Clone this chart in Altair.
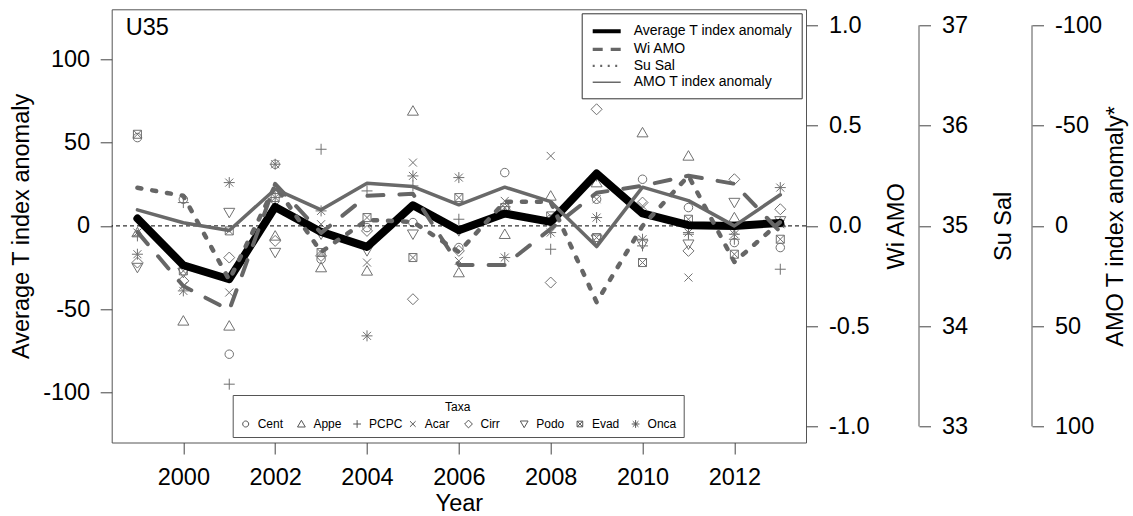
import altair as alt
import pandas as pd

FONT = "Liberation Sans"

# ---------------- data ----------------
years = list(range(1999, 2014))
taxa = ["Cent", "Appe", "PCPC", "Acar", "Cirr", "Podo", "Evad", "Onca"]

cent = [53, 16, -77, 37, -20, -1, 2, -13, 32, 4, 16, 28, 11, -10, -13]
appe = [-4, -57, -60, -6, -25, -27, 69, -28, -5, 18, 26, 56, 42, 5, 2]
pcpc = [-6, 14, -95, 17, 46, 21, 24, 4, 8, -14, 30, -12, -5, -8, -26]
acar = [-4, -36, -40, 12, 1, -22, 38, -21, 15, 42, 16, 12, -31, -3, 1]
cirr = [-22, -33, -19, -9, -18, -3, -44, -15, 10, -34, 70, 14, -15, 28, 10]
podo = [-25, -28, 8, -16, -5, -15, -5, -3, 9, 2, -8, -11, -11, 14, 3]
evad = [55, -27, -3, 17, -16, 5, -19, 17, 11, 6, -7, -22, 4, -17, -8]
onca = [-17, -39, 26, 37, 9, -66, 30, 29, -19, -4, 5, -8, -4, -5, 23]

avg_t = [4.4, -23.6, -32, 11.4, -3.6, -12.6, 12.4, -2.6, 7.4, 2.4, 31.4, 7.5, 0.4, 0, 1.8]
wi_amo = [-0.03, -0.30, -0.42, 0.21, -0.035, 0.15, 0.16, -0.195, -0.195, -0.015, 0.165, 0.20, 0.25, 0.21, -0.03]
su_sal = [35.38, 35.30, 34.46, 35.40, 34.74, 35.06, 35.04, 34.74, 35.24, 35.24, 34.24, 35.00, 35.50, 34.64, 35.04]
amo_t = [-8, -1.6, 2.3, -18.3, -8, -21.3, -19.6, -10.5, -19.3, -12.1, 10.3, -19.3, -12.6, 0, -15.5]

series_names = ["Average T index anomaly", "Wi AMO", "Su Sal", "AMO T index anomaly"]
series_colors = ["#000000", "#666666", "#666666", "#696969"]
legend_dashes = [[1, 0], [10, 8], [2, 5.5], [1, 0]]
legend_widths = [4, 1.5, 1.5, 1.8]

x_ticks = [2000, 2002, 2004, 2006, 2008, 2010, 2012]
left_ticks = [-100, -50, 0, 50, 100]
wi_ticks = [-1.0, -0.5, 0.0, 0.5, 1.0]
sal_ticks = [33, 34, 35, 36, 37]
amo_ticks = [-100, -50, 0, 50, 100]

# symbol paths (unit square) for the taxa
shape_paths = [
    "M0.85,0A0.85,0.85 0 1 1 -0.85,0A0.85,0.85 0 1 1 0.85,0Z",
    "M0,-1.05L1.1,0.85L-1.1,0.85Z",
    "M-1.1,0L1.1,0M0,-1.1L0,1.1",
    "M-0.8,-0.8L0.8,0.8M-0.8,0.8L0.8,-0.8",
    "M0,-1.1L1.1,0L0,1.1L-1.1,0Z",
    "M0,1.05L1.1,-0.85L-1.1,-0.85Z",
    "M-0.8,-0.8L0.8,-0.8L0.8,0.8L-0.8,0.8ZM-0.8,-0.8L0.8,0.8M-0.8,0.8L0.8,-0.8",
    "M-1.1,0L1.1,0M0,-1.1L0,1.1M-0.8,-0.8L0.8,0.8M-0.8,0.8L0.8,-0.8",
]

# ---------------- tables ----------------
taxa_vals = [cent, appe, pcpc, acar, cirr, podo, evad, onca]
rows = []
for name, vals in zip(taxa, taxa_vals):
    for yr, v in zip(years, vals):
        rows.append({"year": yr, "taxa": name, "value": v})
taxa_df = pd.DataFrame(rows)

avg_df = pd.DataFrame({"year": years, "v": avg_t})
wi_df = pd.DataFrame({"year": years, "v": wi_amo})
sal_df = pd.DataFrame({"year": years, "s": su_sal})
amo_df = pd.DataFrame({"year": years, "v": amo_t})
legend_df = pd.DataFrame({"year": pd.Series([], dtype=float), "v": pd.Series([], dtype=float),
                          "series": pd.Series([], dtype=str)})

# ---------------- geometry ----------------
W = 694.3
H = 433.2
PAD_L, PAD_T = 111.7, 9.3
SAL_OFF = 113
AMO_OFF = 226

labexp = "replace(format(datum.value, '{f}'), '\u2212', '-')"

x_enc = alt.X(
    "year:Q",
    scale=alt.Scale(domain=[1998.44, 2013.56], nice=False, zero=False),
    axis=alt.Axis(values=x_ticks, format="d", title="Year", domain=False, tickSize=11.5,
                  labelPadding=30, labelBaseline="alphabetic", labelFlush=False,
                  labelOverlap=False, titleY=67.5, titleBaseline="alphabetic"),
)

left_scale = alt.Scale(domain=[-130, 130], nice=False, zero=False)
left_axis = alt.Axis(values=left_ticks, labelExpr=labexp.format(f="d"), title="Average T index anomaly",
                     orient="left", domain=False, tickSize=11.5, labelPadding=10.5,
                     titleAngle=270, titleX=-83, titleY=H / 2, titleAlign="center",
                     titleBaseline="alphabetic")


def y_left(field):
    return alt.Y(field, type="quantitative", scale=left_scale, axis=left_axis)


line_legend = alt.Legend(
    title=None, orient="none", legendX=470, legendY=4, direction="vertical",
    symbolType="M-1,0L3,0", symbolSize=196, labelOffset=25, labelFontSize=14,
    labelFont=FONT, labelLimit=400, padding=9, rowPadding=1,
    strokeColor="#333333", fillColor="white",
)

# ---------------- layer A (left scale) ----------------
points = alt.Chart(taxa_df).mark_point(filled=False, size=100, strokeWidth=1, color="#707070", opacity=1).encode(
    x=x_enc,
    y=y_left("value"),
    shape=alt.Shape(
        "taxa:N",
        scale=alt.Scale(domain=taxa, range=shape_paths),
        legend=alt.Legend(
            title="Taxa", orient="none", legendX=121, legendY=385.7, direction="horizontal",
            columns=8, gridAlign="all", columnPadding=3.7, labelOffset=6, padding=7,
            titleAnchor="middle", titleAlign="center", titleFontSize=12, titleFontWeight="normal",
            titleFont=FONT, labelFont=FONT, labelFontSize=12, symbolSize=50, symbolStrokeWidth=1,
            symbolStrokeColor="#555555", strokeColor="#555555", fillColor="white", titlePadding=4,
        ),
    ),
)

zero = alt.Chart(pd.DataFrame({"z": [0]})).mark_rule(color="black", strokeWidth=1, strokeDash=[4, 3]).encode(
    y=y_left("z")
)

avg_line = alt.Chart(avg_df).mark_line(color=series_colors[0], strokeWidth=8, strokeCap="round",
                                       strokeJoin="round").encode(x=x_enc, y=y_left("v"))

# empty layer that only carries the line legend
legend_layer = alt.Chart(legend_df).mark_line().encode(
    x=x_enc,
    y=y_left("v"),
    color=alt.Color("series:N", scale=alt.Scale(domain=series_names, range=series_colors), legend=line_legend),
    strokeDash=alt.StrokeDash("series:N", scale=alt.Scale(domain=series_names, range=legend_dashes),
                              legend=line_legend),
    strokeWidth=alt.StrokeWidth("series:N", scale=alt.Scale(domain=series_names, range=legend_widths),
                                legend=line_legend),
)

label = alt.Chart(pd.DataFrame({"t": ["U35"]})).mark_text(
    align="left", baseline="alphabetic", fontSize=23.5, font=FONT, color="black"
).encode(text="t:N", x=alt.value(14), y=alt.value(26))

layer_a = alt.layer(points, zero, avg_line, legend_layer, label)

# ---------------- layer B (Wi AMO) ----------------
wi_line = alt.Chart(wi_df).mark_line(color=series_colors[1], strokeWidth=4, strokeDash=[16, 16],
                                     strokeCap="round", strokeJoin="round").encode(
    x=x_enc,
    y=alt.Y("v:Q", scale=alt.Scale(domain=[-1.08, 1.08], nice=False, zero=False),
            axis=alt.Axis(values=wi_ticks, labelExpr=labexp.format(f=".1f"), title="Wi AMO", orient="right",
                          domain=False, tickSize=11.5, labelPadding=11, titleAngle=270, titleX=97,
                          titleY=H / 2, titleAlign="center", titleBaseline="alphabetic")),
)

# ---------------- layer C (Su Sal) ----------------
sal_scale = alt.Scale(domain=[32.84, 37.16], nice=False, zero=False)
sal_axis = alt.Axis(values=sal_ticks, format="d", title="Su Sal", orient="right", offset=SAL_OFF,
                    domain=False, tickSize=11.5, labelPadding=11, titleAngle=270, titleX=91,
                    titleY=H / 2, titleAlign="center", titleBaseline="alphabetic")
sal_line = alt.Chart(sal_df).mark_line(color=series_colors[2], strokeWidth=4.5, strokeDash=[4, 11],
                                       strokeCap="round", strokeJoin="round").encode(
    x=x_enc, y=alt.Y("s:Q", scale=sal_scale, axis=sal_axis)
)
sal_rule = alt.Chart(pd.DataFrame({"s": [sal_ticks[0]], "s2": [sal_ticks[-1]]})).mark_rule(
    color="#555555", strokeWidth=1
).encode(x=alt.value(W + SAL_OFF), y=alt.Y("s:Q", scale=sal_scale, axis=sal_axis), y2="s2:Q")
layer_c = alt.layer(sal_line, sal_rule)

# ---------------- layer D (AMO T index anomaly*) ----------------
amo_scale = alt.Scale(domain=[-108, 108], nice=False, zero=False, reverse=True)
amo_axis = alt.Axis(values=amo_ticks, labelExpr=labexp.format(f="d"), title="AMO T index anomaly*",
                    orient="right", offset=AMO_OFF, domain=False, tickSize=11.5, labelPadding=11,
                    titleAngle=270, titleX=90, titleY=H / 2, titleAlign="center",
                    titleBaseline="alphabetic")
amo_line = alt.Chart(amo_df).mark_line(color=series_colors[3], strokeWidth=3.5, strokeCap="round",
                                       strokeJoin="round").encode(
    x=x_enc, y=alt.Y("v:Q", scale=amo_scale, axis=amo_axis)
)
amo_rule = alt.Chart(pd.DataFrame({"v": [amo_ticks[0]], "v2": [amo_ticks[-1]]})).mark_rule(
    color="#555555", strokeWidth=1
).encode(x=alt.value(W + AMO_OFF), y=alt.Y("v:Q", scale=amo_scale, axis=amo_axis), y2="v2:Q")
layer_d = alt.layer(amo_line, amo_rule)

chart = (
    alt.layer(layer_a, wi_line, layer_c, layer_d)
    .resolve_scale(y="independent")
    .properties(
        width=W,
        height=H,
        autosize=alt.AutoSizeParams(type="none"),
        padding={"left": PAD_L, "top": PAD_T, "right": 1133 - PAD_L - W, "bottom": 516 - PAD_T - H},
    )
    .configure_view(stroke="#555555", strokeWidth=1)
    .configure_axis(
        grid=False, labelFont=FONT, titleFont=FONT, labelFontSize=23.5, titleFontSize=23.5,
        labelColor="black", titleColor="black", tickColor="#444444", tickWidth=1,
        titleFontWeight="normal",
    )
    .configure_legend(labelFont=FONT, titleFont=FONT, labelColor="black", titleColor="black")
)

chart.save("out.html", embed_options={"renderer": "svg", "actions": False})
